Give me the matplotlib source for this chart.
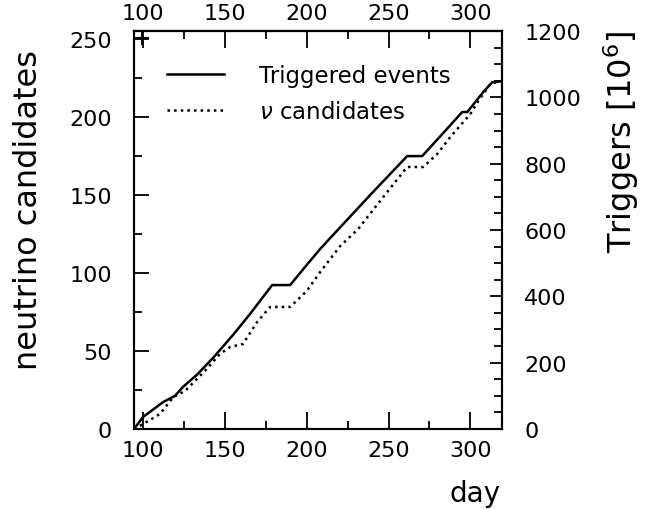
import matplotlib.pyplot as plt
from matplotlib.ticker import MultipleLocator

# triggered events (right axis, 10^6)
trig_day = [94.3, 99.8, 112.1, 119.4, 124.3, 132.7, 142.8, 155.1, 165.0, 178.8,
            189.8, 200.0, 208.2, 215.5, 240.0, 261.4, 270.6, 283.0,
            295.1, 298.2, 307.9, 313.5, 319.4]
trig_val = [0, 36, 81, 100, 127, 163, 215, 285, 345, 434,
            434, 495, 543, 582, 712, 823, 823, 890,
            956, 956, 1016, 1046, 1049]

# neutrino candidates (left axis)
cand_day = [94.3, 100.0, 110.2, 118.4, 125.5, 138.8, 146.9, 153.1, 161.0, 169.6,
            177.6, 189.8, 200.0, 208.2, 220.4, 231.4, 246.7, 261.4, 271.2, 279.8,
            287.8, 300.0, 304.9, 312.2, 318.4]
cand_val = [0, 3.2, 9.6, 20.5, 24.3, 38.4, 48.1, 52.5, 54.5, 68.5,
            78.2, 78.2, 88.4, 100.6, 117.2, 128.1, 148.6, 167.9, 167.9, 176.2,
            187.1, 201.8, 210.1, 221.0, 223.0]

mark_day = [99.3]
mark_val = [250.5]

plt.rcParams['font.family'] = ['DejaVu Sans']
plt.rcParams['mathtext.fontset'] = 'dejavusans'

fig = plt.figure(figsize=(6.57, 5.10), dpi=100)
ax = fig.add_axes([0.204, 0.157, 0.560, 0.780])
ax2 = ax.twinx()

l2, = ax.plot(cand_day, cand_val, color='black', lw=1.8, linestyle=':')
l1, = ax2.plot(trig_day, trig_val, color='black', lw=1.8)
ax.plot(mark_day, mark_val, marker='+', color='black', markersize=10, mew=1.5, ls='none')

ax.set_xlim(94.3, 319.4)
ax.set_ylim(0, 255)
ax2.set_ylim(0, 1200)

ax.xaxis.set_major_locator(MultipleLocator(50))
ax.xaxis.set_minor_locator(MultipleLocator(25))
ax.yaxis.set_major_locator(MultipleLocator(50))
ax.yaxis.set_minor_locator(MultipleLocator(25))
ax2.yaxis.set_major_locator(MultipleLocator(200))
ax2.yaxis.set_minor_locator(MultipleLocator(50))

top = ax.secondary_xaxis('top')
top.xaxis.set_major_locator(MultipleLocator(50))
top.xaxis.set_minor_locator(MultipleLocator(25))
top.tick_params(axis='x', which='both', direction='in', labelsize=16, pad=6, width=1.3)
top.tick_params(axis='x', which='major', length=12)
top.tick_params(axis='x', which='minor', length=6)

ax.tick_params(axis='x', which='both', direction='in', labelsize=16, pad=8, width=1.3)
ax.tick_params(axis='x', which='major', length=12)
ax.tick_params(axis='x', which='minor', length=6)
ax.tick_params(axis='y', which='both', direction='in', labelsize=16, pad=16, width=1.3)
ax.tick_params(axis='y', which='major', length=11)
ax.tick_params(axis='y', which='minor', length=6)
ax2.tick_params(axis='y', which='both', direction='in', labelsize=16, pad=16, width=1.3)
ax2.tick_params(axis='y', which='major', length=9)
ax2.tick_params(axis='y', which='minor', length=6)

for a in (ax, ax2, top):
    for s in a.spines.values():
        s.set_linewidth(1.5)

ax.set_ylabel('neutrino candidates', fontsize=23)
ax.yaxis.set_label_coords(-0.245, 0.553)
ax2.set_ylabel('Triggers [10$^6$]', fontsize=23)
ax2.yaxis.set_label_coords(1.27, 0.725)
ax.set_xlabel('day', fontsize=20)
ax.xaxis.set_label_coords(0.995, -0.125)
ax.xaxis.label.set_ha('right')

ax.legend([l1, l2], ['Triggered events', r'$\nu$ candidates'], loc='upper left',
          bbox_to_anchor=(0.09, 0.917), frameon=False, fontsize=16.5,
          handlelength=2.5, handletextpad=1.5, labelspacing=0.55,
          borderpad=0, borderaxespad=0)

fig.savefig('out.png', dpi=100)
